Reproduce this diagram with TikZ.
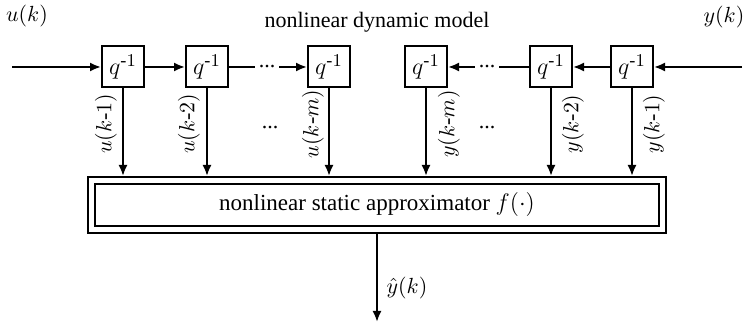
\documentclass[tikz,border=0pt]{standalone}
\usepackage{amsmath}
\usepackage{fontspec}
\setmainfont{Liberation Serif}
\usetikzlibrary{arrows.meta}

\begin{document}
\begin{tikzpicture}[x=0.5pt,y=-0.5pt,line width=1pt,
  every node/.style={font=\fontsize{11}{13}\selectfont},
  delay/.style={draw,minimum width=21pt,minimum height=20.5pt,inner sep=0pt,
    font=\fontsize{13}{15}\selectfont},
  dots/.style={inner sep=1.5pt},
  tap/.style={rotate=90,inner sep=0pt},
  arr/.style={-{Latex[length=5.5pt,width=4.5pt]}}]
  \useasboundingbox (0,0) rectangle (745,324);

  %title
  \node (title) at (377,22) {nonlinear dynamic model};

  %input and output signals
  \node (ulabel) at (27,16) {$u(k)$};
  \node (ylabel) at (724,17) {$y(k)$};
  \coordinate (uin) at (12,67);
  \coordinate (yin) at (742,67);

  %delay boxes
  \node[delay] (u1) at (123,67) {$q^{\text{-}1}$};
  \node[delay] (u2) at (207,67) {$q^{\text{-}1}$};
  \node[delay] (um) at (329,67) {$q^{\text{-}1}$};
  \node[delay] (ym) at (426,67) {$q^{\text{-}1}$};
  \node[delay] (y2) at (551,67) {$q^{\text{-}1}$};
  \node[delay] (y1) at (632,67) {$q^{\text{-}1}$};
  \node[dots] (du) at (267,67) {...};
  \node[dots] (dy) at (487,67) {...};

  %approximator
  \node[draw,double,double distance=2.5pt,outer sep=2.25pt,
    minimum width=285.75pt,minimum height=24.5pt,
    font=\fontsize{11.5}{13}\selectfont] (approx) at (377,205)
    {nonlinear static approximator $f(\cdot)$};
  \coordinate (yout) at (377,322);

  %delay chains
  \draw[arr] (uin) -- (u1);
  \draw[arr] (u1) -- (u2);
  \draw (u2) -- (du);
  \draw[arr] (du) -- (um);
  \draw[arr] (yin) -- (y1);
  \draw[arr] (y1) -- (y2);
  \draw (y2) -- (dy);
  \draw[arr] (dy) -- (ym);

  %taps
  \foreach \b in {u1,u2,um,ym,y2,y1}
    \draw[arr] (\b) -- (\b |- approx.north);
  \node[tap] (lu1) at (106,124) {$u(k\text{-}1)$};
  \node[tap] (lu2) at (189,124) {$u(k\text{-}2)$};
  \node[tap] (lum) at (313,124) {$u(k\text{-}m)$};
  \node[tap] (lym) at (449,124) {$y(k\text{-}m)$};
  \node[tap] (ly2) at (573,124) {$y(k\text{-}2)$};
  \node[tap] (ly1) at (654,124) {$y(k\text{-}1)$};
  \node[dots] (tu) at (270,128) {...};
  \node[dots] (ty) at (487,128) {...};

  %output
  \draw[arr] (approx.south) -- (yout);
  \node (lout) at (407,288) {$\hat{y}(k)$};
\end{tikzpicture}
\end{document}
